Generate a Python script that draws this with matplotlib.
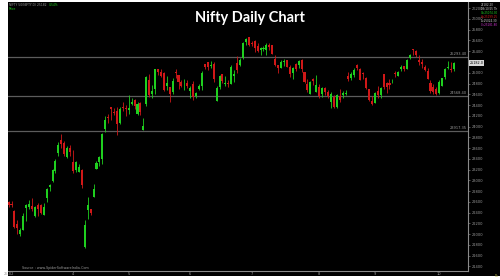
import matplotlib
matplotlib.use("Agg")
import matplotlib.pyplot as plt
from matplotlib.patches import Rectangle

# Nifty daily OHLC, 25 Feb - 9 Oct
dates = ["25.02", "27.02", "28.02",
         "03.03", "04.03", "05.03", "06.03", "07.03", "10.03", "11.03", "12.03", "13.03", "17.03",
         "18.03", "19.03", "20.03", "21.03", "24.03", "25.03", "26.03", "27.03", "28.03",
         "01.04", "02.04", "03.04", "04.04", "07.04", "08.04", "09.04", "11.04", "15.04", "16.04",
         "17.04", "21.04", "22.04", "23.04", "24.04", "25.04", "28.04", "29.04", "30.04",
         "02.05", "05.05", "06.05", "07.05", "08.05", "09.05", "12.05", "13.05", "14.05", "15.05",
         "16.05", "19.05", "20.05", "21.05", "22.05", "23.05", "26.05", "27.05", "28.05", "29.05", "30.05",
         "02.06", "03.06", "04.06", "05.06", "06.06", "09.06", "10.06", "11.06", "12.06", "13.06",
         "16.06", "17.06", "18.06", "19.06", "20.06", "23.06", "24.06", "25.06", "26.06", "27.06", "30.06",
         "01.07", "02.07", "03.07", "04.07", "07.07", "08.07", "09.07", "10.07", "11.07", "14.07",
         "15.07", "16.07", "17.07", "18.07", "21.07", "22.07", "23.07", "24.07", "25.07", "28.07",
         "29.07", "30.07", "31.07",
         "01.08", "04.08", "05.08", "06.08", "07.08", "08.08", "11.08", "12.08", "13.08", "14.08",
         "18.08", "19.08", "20.08", "21.08", "22.08", "25.08", "26.08", "28.08", "29.08",
         "01.09", "02.09", "03.09", "04.09", "05.09", "08.09", "09.09", "10.09", "11.09", "12.09",
         "15.09", "16.09", "17.09", "18.09", "19.09", "22.09", "23.09", "24.09", "25.09", "26.09",
         "29.09", "30.09",
         "01.10", "03.10", "06.10", "07.10", "08.10", "09.10"]

opens = [22600, 22568, 22433,
         22194, 22003, 22073, 22476, 22509, 22522, 22345, 22536, 22541, 22354,
         22662, 22874, 22982, 23168, 23515, 23751, 23700, 23434, 23600,
         23341, 23192, 23150, 23190, 21758, 22446, 22460, 22695, 23207, 23344,
         23401, 23949, 24185, 24357, 24277, 24289, 24070, 24371, 24342,
         24311, 24419, 24500, 24233, 24431, 23935, 24420, 24864, 24614, 24694,
         25064, 25005, 24996, 24745, 24733, 24639, 25011, 24956, 24832, 24825, 24812,
         24669, 24786, 24560, 24691, 24749, 25160, 25196, 25134, 25164, 24473,
         24732, 24977, 24789, 24803, 24787, 24940, 25179, 25150, 25268, 25576, 25661,
         25551, 25588, 25505, 25428, 25451, 25427, 25514, 25511, 25255, 25149,
         25090, 25196, 25230, 25108, 24999, 25166, 25139, 25243, 25010, 24782,
         24609, 24890, 24642,
         24735, 24596, 24720, 24641, 24464, 24544, 24371, 24563, 24586, 24607,
         24939, 24903, 24965, 25142, 25064, 25000, 24900, 24695, 24466,
         24432, 24653, 24580, 24980, 24818, 24802, 24864, 24992, 24945, 25074,
         25119, 25074, 25276, 25441, 25410, 25239, 25209, 25108, 25034, 24818,
         24729, 24691,
         24620, 24759, 24916, 25086, 25079, 25074]

highs = [22620, 22613, 22450,
         22261, 22106, 22394, 22556, 22633, 22677, 22522, 22578, 22558, 22578,
         22857, 22940, 23216, 23403, 23709, 23869, 23736, 23647, 23649,
         23565, 23350, 23306, 23215, 22255, 22698, 22468, 22924, 23368, 23452,
         23872, 24189, 24242, 24359, 24347, 24365, 24355, 24457, 24396,
         24589, 24526, 24510, 24449, 24447, 24164, 24944, 24973, 24767, 25071,
         25070, 25062, 25010, 24946, 24737, 24909, 25079, 24956, 24865, 24892, 24864,
         24754, 24845, 24644, 24800, 25029, 25160, 25199, 25223, 25196, 24754,
         24967, 24983, 24947, 24863, 25137, 25058, 25318, 25266, 25565, 25654, 25669,
         25593, 25608, 25549, 25470, 25489, 25548, 25548, 25525, 25323, 25151,
         25245, 25255, 25238, 25144, 25111, 25182, 25233, 25247, 25011, 24889,
         24848, 24902, 24956,
         24784, 24736, 24734, 24671, 24634, 24585, 24600, 24702, 24664, 24674,
         25022, 25012, 25088, 25154, 25084, 25021, 24919, 24702, 24572,
         24636, 24756, 24737, 24980, 24833, 24885, 24891, 25035, 25037, 25139,
         25126, 25261, 25346, 25449, 25428, 25331, 25261, 25150, 25092, 24868,
         24791, 24731,
         24867, 24904, 25095, 25220, 25192, 25199]

lows = [22510, 22508, 22105,
        22004, 21965, 22067, 22245, 22464, 22429, 22315, 22329, 22377, 22353,
        22599, 22807, 22974, 23133, 23452, 23601, 23452, 23412, 23451,
        23136, 23158, 23145, 22858, 21743, 22271, 22353, 22695, 23207, 23273,
        23298, 23903, 24072, 24119, 24216, 23847, 24055, 24290, 24198,
        24238, 24400, 24331, 24220, 24220, 23935, 24378, 24547, 24535, 24604,
        24953, 24916, 24669, 24685, 24462, 24614, 24900, 24704, 24737, 24677, 24717,
        24526, 24502, 24530, 24671, 24671, 25077, 25056, 25081, 24825, 24473,
        24703, 24813, 24750, 24733, 24784, 24824, 24999, 25125, 25259, 25523, 25489,
        25501, 25378, 25384, 25332, 25407, 25332, 25424, 25340, 25129, 25001,
        25088, 25121, 25101, 24918, 24883, 25036, 25085, 25018, 24806, 24646,
        24598, 24771, 24635,
        24535, 24554, 24590, 24539, 24344, 24337, 24347, 24465, 24539, 24586,
        24852, 24873, 24929, 25054, 24859, 24893, 24689, 24482, 24404,
        24432, 24522, 24533, 24690, 24621, 24692, 24815, 24915, 24940, 25038,
        25039, 25070, 25253, 25330, 25287, 25151, 25084, 25027, 24878, 24629,
        24606, 24587,
        24605, 24756, 24881, 25076, 25009, 25024]

closes = [22547, 22545, 22125,
          22119, 22083, 22337, 22545, 22553, 22460, 22498, 22470, 22397, 22509,
          22834, 22908, 23191, 23350, 23658, 23669, 23487, 23592, 23519,
          23165, 23332, 23250, 22904, 22162, 22536, 22399, 22829, 23329, 23437,
          23852, 24125, 24167, 24329, 24247, 24039, 24328, 24336, 24334,
          24347, 24461, 24380, 24414, 24273, 24008, 24925, 24578, 24667, 25062,
          25020, 24945, 24683, 24813, 24609, 24853, 25001, 24826, 24752, 24833, 24751,
          24717, 24543, 24621, 24751, 25003, 25103, 25105, 25141, 24888, 24719,
          24947, 24853, 24812, 24794, 25112, 24972, 25045, 25245, 25549, 25637, 25517,
          25542, 25453, 25405, 25461, 25461, 25523, 25476, 25355, 25150, 25082,
          25196, 25212, 25112, 24968, 25091, 25061, 25220, 25062, 24837, 24681,
          24821, 24855, 24768,
          24565, 24723, 24650, 24574, 24596, 24363, 24585, 24487, 24619, 24631,
          24877, 24980, 25051, 25084, 24870, 24968, 24712, 24501, 24427,
          24625, 24580, 24716, 24734, 24741, 24773, 24869, 24973, 25006, 25114,
          25069, 25239, 25330, 25424, 25327, 25203, 25170, 25057, 24891, 24655,
          24635, 24611,
          24837, 24894, 25077, 25108, 25046, 25182]

# horizontal support / resistance lines
levels = [25293.40, 24568.40, 23917.35]
level_labels = ["25293.40", "24568.40", "23917.35"]

# price scale
price_ticks = list(range(21400, 26201, 200))

# month markers on time axis
month_labels = ["25.02", "4", "5", "6", "7", "8", "9", "10"]
month_starts = ["25.02", "01.04", "02.05", "02.06", "01.07", "01.08", "01.09", "01.10"]

GREEN = "#1fcf1f"
RED = "#d01818"
GRID = "#5c5c5c"
TXT = "#9a9a9a"

fig = plt.figure(figsize=(5, 2.8), dpi=100, facecolor="white")

# black panel behind everything
fig.patches.append(Rectangle((8 / 500, 4 / 280), 492 / 500, 274 / 280,
                             transform=fig.transFigure, facecolor="black",
                             edgecolor="none", zorder=-10))

ax = fig.add_axes([8 / 500, 9 / 280, 460 / 500, 269 / 280])
ax.set_zorder(5)
ax.set_facecolor("black")

x = list(range(len(dates)))
up = [c >= o for o, c in zip(opens, closes)]
cols = [GREEN if u else RED for u in up]
bottoms = [min(o, c) for o, c in zip(opens, closes)]
heights = [max(abs(c - o), 8) for o, c in zip(opens, closes)]

ax.vlines(x, lows, highs, colors=cols, linewidth=0.6, zorder=3)
ax.bar(x, heights, bottom=bottoms, width=0.7, color=cols, linewidth=0, zorder=4)

for lv, lb in zip(levels, level_labels):
    ax.axhline(lv, color=GRID, linewidth=0.9, zorder=2)
    ax.text(156.5, lv + 25, lb, color=TXT, fontsize=2.6, ha="right", va="bottom")

ax.set_xlim(-0.2, 156.8)
ax.set_ylim(21313, 26316)

for s in ["top", "left"]:
    ax.spines[s].set_visible(False)
ax.spines["right"].set_color("#8a8a8a")
ax.spines["right"].set_linewidth(0.8)
ax.spines["bottom"].set_color("#8a8a8a")
ax.spines["bottom"].set_linewidth(0.8)

ax.yaxis.tick_right()
ax.set_yticks(price_ticks)
ax.set_yticklabels([str(p) for p in price_ticks])
ax.tick_params(axis="y", colors=TXT, labelsize=2.6, length=1.5, width=0.4, pad=1.5)

xt = [dates.index(d) for d in month_starts]
ax.set_xticks(xt)
ax.set_xticklabels(month_labels)
ax.tick_params(axis="x", colors=TXT, labelsize=2.6, length=0, pad=1)

# last price box
ax.text(1.003, (closes[-1] - 21313) / (26316 - 21313), f"{closes[-1]:.1f}",
        transform=ax.transAxes, fontsize=2.4, color="black", va="center", ha="left",
        bbox=dict(boxstyle="square,pad=0.2", facecolor="#d8d8d8", edgecolor="none"))

# title and small captions
fig.text(0.5, 0.936, "Nifty Daily Chart", color="white", fontsize=10.5, fontweight="bold",
         ha="center", va="center", family=["Lato", "DejaVu Sans"], zorder=10)
fig.text(9 / 500, 1 - 5 / 280, "NIFTY 50(NIFTY,D) 25182", color=TXT, fontsize=2.2, va="center", zorder=10)
fig.text(49 / 500, 1 - 5 / 280, "0.54%", color=GREEN, fontsize=2.2, va="center", zorder=10)
fig.text(9 / 500, 1 - 9 / 280, "Price", color=GREEN, fontsize=2.2, va="center", zorder=10)
fig.text(22 / 500, 1 - 268 / 280, "Source : www.SpiderSoftwareIndia.Com", color=TXT,
         fontsize=2.4, va="center", zorder=10)

legend_rows = [("25182.20", "#d0d0d0"), ("09/10/25 Th", "#d0d0d0"), ("O=25074.30", GREEN),
               ("H=25199.25", RED), ("L=25024.30", "#d0d0d0"), ("C=25181.80", "#cc33cc")]
for i, (t, c) in enumerate(legend_rows):
    fig.text(481 / 500, 1 - (4.5 + i * 4.2) / 280, t, color=c, fontsize=2.0, va="center", zorder=10)
fig.text(495 / 500, 1 - 276 / 280, "Ds", color="#b8b84a", fontsize=2.2, va="center", zorder=10)

fig.savefig("out.png", dpi=100, facecolor="white")
